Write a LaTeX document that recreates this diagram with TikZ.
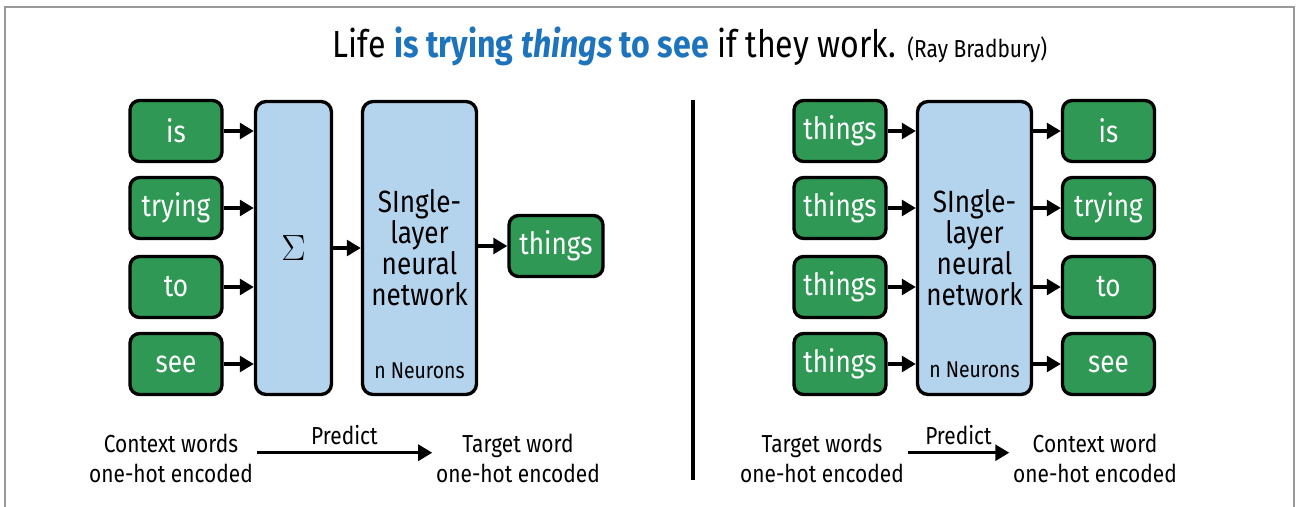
\documentclass[tikz,border=0pt]{standalone}
\usepackage{fontspec}
\setmainfont{Fira Sans}[FakeStretch=0.85]
\usepackage{tikz}
\usetikzlibrary{arrows.meta}
\usepackage{xcolor}

\definecolor{wordgreen}{RGB}{46,152,84}
\definecolor{layerblue}{RGB}{180,212,238}
\definecolor{titleblue}{RGB}{30,116,188}

\tikzset{
  word/.style={draw=black, line width=1.9pt, fill=wordgreen, rounded corners=5.5pt,
    minimum width=1.84cm, minimum height=1.22cm, inner sep=0pt, text=white,
    font=\fontsize{17.5}{20}\selectfont},
  layer/.style={draw=black, line width=1.9pt, fill=layerblue, rounded corners=6pt,
    minimum height=5.86cm, inner sep=0pt, align=center,
    font=\fontsize{17.5}{17.6}\selectfont},
  link/.style={-{Triangle[length=8pt,width=9pt]}, line width=1.9pt},
  caption/.style={align=center, inner sep=2pt, font=\fontsize{14}{17}\selectfont},
}

\begin{document}
\begin{tikzpicture}[x=0.02cm, y=-0.02cm]
\useasboundingbox (0,0) rectangle (1296,507);
\draw[gray!80, line width=1.5pt] (5,507) -- (5,7) -- (1294,7) -- (1294,507);

% title
\node[font=\fontsize{21.5}{24}\selectfont] (title) at (690,46) {Life \textcolor{titleblue}{\bfseries is trying \itshape things \upshape to see} if they work. {\fontsize{14}{16}\selectfont (Ray Bradbury)}};

% CBOW
\node[word] (is) at (176,131) {is};
\node[word] (trying) at (176,208) {trying};
\node[word] (to) at (176,287) {to};
\node[word] (see) at (176,364) {see};
\node[layer, minimum width=1.52cm] (sum) at (293.5,248) {\fontsize{21}{22}\selectfont$\Sigma$};
\node[layer, minimum width=2.28cm] (nn1) at (419.5,248) {SIngle-\\layer\\neural\\network};
\node[font=\fontsize{13}{15}\selectfont] (nn1n) at (419.5,371) {n Neurons};
\node[word, minimum width=1.88cm] (out1) at (556,246) {things};
\draw[link] (is) -- (is -| sum.west);
\draw[link] (trying) -- (trying -| sum.west);
\draw[link] (to) -- (to -| sum.west);
\draw[link] (see) -- (see -| sum.west);
\draw[link] (sum) -- (nn1);
\draw[link] (nn1.east |- out1) -- (out1);

\node[caption] (lctx) at (171,458) {Context words\\one-hot encoded};
\node[caption] (ltgt) at (518,458) {Target word\\one-hot encoded};
\draw[link] ([yshift=3pt]lctx.east) -- ([yshift=3pt]ltgt.west) node[midway, above, font=\fontsize{14}{17}\selectfont] {Predict};

\draw[line width=2.8pt] (693,100) -- (693,480);

% Skip-gram
\node[word] (t1) at (840,131) {things};
\node[word] (t2) at (840,208) {things};
\node[word] (t3) at (840,287) {things};
\node[word] (t4) at (840,364) {things};
\node[layer, minimum width=2.28cm] (nn2) at (974.5,248) {SIngle-\\layer\\neural\\network};
\node[font=\fontsize{13}{15}\selectfont] (nn2n) at (974.5,370) {n Neurons};
\node[word] (o1) at (1108.5,131) {is};
\node[word] (o2) at (1108.5,208) {trying};
\node[word] (o3) at (1108.5,287) {to};
\node[word] (o4) at (1108.5,364) {see};
\draw[link] (t1) -- (t1 -| nn2.west);
\draw[link] (t2) -- (t2 -| nn2.west);
\draw[link] (t3) -- (t3 -| nn2.west);
\draw[link] (t4) -- (t4 -| nn2.west);
\draw[link] (o1 -| nn2.east) -- (o1);
\draw[link] (o2 -| nn2.east) -- (o2);
\draw[link] (o3 -| nn2.east) -- (o3);
\draw[link] (o4 -| nn2.east) -- (o4);

\node[caption] (rtgt) at (822,458) {Target words\\one-hot encoded};
\node[caption] (rctx) at (1095,458) {Context word\\one-hot encoded};
\draw[link] ([yshift=3pt]rtgt.east) -- ([yshift=3pt]rctx.west) node[midway, above, font=\fontsize{14}{17}\selectfont] {Predict};
\end{tikzpicture}
\end{document}
